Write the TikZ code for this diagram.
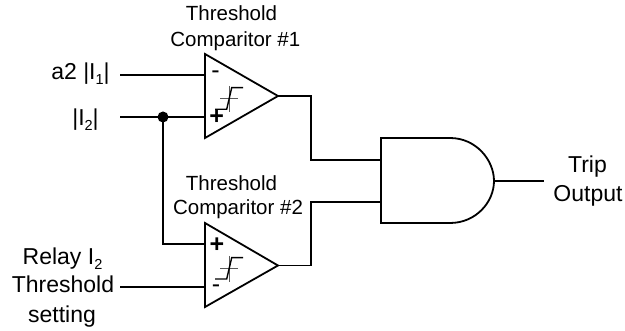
\documentclass[tikz,border=0pt]{standalone}
\usepackage{fontspec}
\setmainfont{Liberation Sans}
\newcommand{\subs}[1]{\raisebox{-5pt}{\fontsize{14.5}{14.5}\selectfont #1}}
\tikzset{
  x=1pt,y=-1pt,
  wire/.style={line width=1.7pt,line join=miter,black},
  gate/.style={line width=1.8pt,line join=miter,black,fill=white},
  lbl/.style={inner sep=0pt,anchor=base,text=black,font=\fontsize{20.5}{20.5}\selectfont},
  biglbl/.style={lbl,font=\fontsize{23}{23}\selectfont},
  sgn/.style={inner sep=0pt,anchor=center,text=black,font=\fontsize{25}{25}\selectfont},
  hystthin/.style={line width=0.6pt,black!65},
  hyst/.style={line width=1.4pt,black},
  junction/.style={circle,fill=black,inner sep=0pt,minimum size=11pt}
}
\begin{document}
\begin{tikzpicture}
\useasboundingbox (0,0) rectangle (625,331);
% free wire ends
\coordinate (inA) at (120,75);
\coordinate (inB) at (120,117);
\coordinate (inC) at (120,287);
\coordinate (out) at (544,181);
% comparator 1
\coordinate (c1top) at (205,54);
\coordinate (c1bot) at (205,138);
\coordinate (c1tip) at (278,96);
\coordinate (c1m) at (205,75);
\coordinate (c1p) at (205,117);
% comparator 2
\coordinate (c2top) at (205,223);
\coordinate (c2bot) at (205,307);
\coordinate (c2tip) at (278,265.5);
\coordinate (c2p) at (205,244);
\coordinate (c2m) at (205,287);
% AND gate inputs and output
\coordinate (and1) at (381,160);
\coordinate (and2) at (381,202);
\coordinate (andout) at (494,181);
\coordinate (bend1) at (311,96);
\coordinate (bend2) at (311,265.5);
\coordinate (bend3) at (163,244);
% wires
\node[junction] (dot) at (163,117) {};
\draw[wire] (inA) -- (c1m);
\draw[wire] (inB) -- (c1p);
\draw[wire] (dot.center) -- (bend3) -- (c2p);
\draw[wire] (inC) -- (c2m);
\draw[wire] (c1tip) -- (bend1) |- (and1);
\draw[wire] (c2tip) -- (bend2) |- (and2);
\draw[wire] (andout) -- (out);
% gates
\draw[gate] (c1top) -- (c1tip) -- (c1bot) -- cycle;
\draw[gate] (c2top) -- (c2tip) -- (c2bot) -- cycle;
\draw[gate] (381,138) -- (450,138) .. controls (476,138) and (494,160) .. (494,181)
  .. controls (494,202) and (476,223) .. (450,223) -- (381,223) -- cycle;
% hysteresis symbols
\draw[hystthin] (220,98.7) -- (238,98.7) (229.5,86) -- (229.5,112);
\draw[hyst] (215,109.3) -- (226.7,109.3) -- (231.7,87.7) -- (243,87.7);
\draw[hystthin] (220,268.7) -- (238,268.7) (229.5,256) -- (229.5,282);
\draw[hyst] (215,279) -- (226.7,279) -- (231.7,257.7) -- (243,257.7);
% signs
\node[sgn] (m1) at (215.5,74.5) {-};
\node[sgn] (p1) at (216.7,117) {\textbf{+}};
\node[sgn] (p2) at (217,245) {\textbf{+}};
\node[sgn] (m2) at (216,288.5) {-};
% labels
\node[lbl] (t1a) at (231.5,21) {Threshold};
\node[lbl] (t1b) at (235.3,46.7) {Comparitor \#1};
\node[lbl] (t2a) at (231.5,191) {Threshold};
\node[lbl] (t2b) at (238,215) {Comparitor \#2};
\node[biglbl] (la) at (80.5,80) {a2 |I\subs{1}|};
\node[biglbl] (lb) at (85.5,126) {|I\subs{2}|};
\node[biglbl] (lc1) at (62.5,265) {Relay I\subs{2}};
\node[biglbl] (lc2) at (63,293) {Threshold};
\node[biglbl] (lc3) at (62,323) {setting};
\node[biglbl] (o1) at (587.5,173) {Trip};
\node[biglbl] (o2) at (588,202) {Output};
\end{tikzpicture}
\end{document}
